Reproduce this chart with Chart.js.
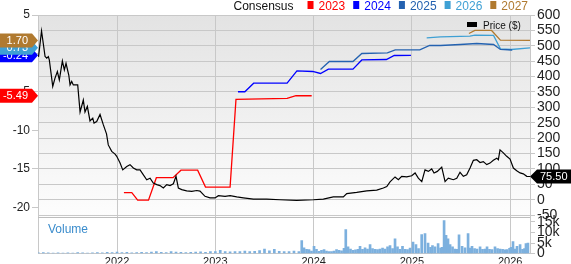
<!DOCTYPE html>
<html>
<head>
<meta charset="utf-8">
<script src="https://cdn.jsdelivr.net/npm/chart.js@4.4.1/dist/chart.umd.min.js"></script>
<style>
  html, body { margin: 0; padding: 0; background: #fff; }
  #grafico_wrap { width: 571px; height: 264px; }
</style>
</head>
<body>
<div id="grafico_wrap"><canvas id="grafico"></canvas></div>
<script>
// valores (ano decimal no eixo x)
const year_ticks = [2022, 2023, 2024, 2025, 2026];
const price_ticks = [-50, 0, 50, 100, 150, 200, 250, 300, 350, 400, 450, 500, 550, 600];
const eps_ticks = [5, 0, -5, -10, -15, -20];
const vol_ticks = [0, 5, 10, 15];

const price_dates = [2021.201, 2021.232, 2021.268, 2021.285, 2021.301, 2021.311, 2021.346, 2021.369, 2021.393, 2021.413,
    2021.444, 2021.464, 2021.481, 2021.509, 2021.522, 2021.539, 2021.555, 2021.600, 2021.624, 2021.657,
    2021.674, 2021.698, 2021.725, 2021.753, 2021.766, 2021.793, 2021.827, 2021.861, 2021.893, 2021.911,
    2021.946, 2021.980, 2021.997, 2022.031, 2022.058, 2022.099, 2022.132, 2022.166, 2022.200, 2022.234,
    2022.268, 2022.302, 2022.336, 2022.369, 2022.404, 2022.437, 2022.471, 2022.506, 2022.539, 2022.573,
    2022.600, 2022.624, 2022.658, 2022.709, 2022.760, 2022.811, 2022.844, 2022.895, 2022.946, 2022.997,
    2023.031, 2023.099, 2023.150, 2023.218, 2023.285, 2023.387, 2023.523, 2023.658, 2023.828, 2023.997,
    2024.099, 2024.200, 2024.302, 2024.337, 2024.438, 2024.540, 2024.642, 2024.709, 2024.744, 2024.777,
    2024.828, 2024.862, 2024.896, 2024.947, 2024.998, 2025.032, 2025.065, 2025.100, 2025.133, 2025.167,
    2025.201, 2025.225, 2025.258, 2025.303, 2025.337, 2025.370, 2025.421, 2025.456, 2025.489, 2025.523,
    2025.557, 2025.591, 2025.625, 2025.659, 2025.693, 2025.726, 2025.761, 2025.794, 2025.828, 2025.863,
    2025.879, 2025.896, 2025.930, 2025.964, 2025.998, 2026.032, 2026.066, 2026.100, 2026.133, 2026.168,
    2026.201];
const price_values = [464, 548, 465, 460, 465, 454, 368, 395, 416, 389,
    451, 422, 443, 405, 373, 384, 373, 373, 285, 324,
    285, 303, 256, 265, 249, 254, 277, 243, 214, 178,
    157, 148, 141, 119, 97, 108, 114, 103, 97, 97,
    81, 65, 70, 54, 49, 46, 38, 49, 46, 52,
    76, 38, 33, 29, 27, 30, 28, 11, 6, 6,
    13, 11, 13, 9, 6, 2, 2, 0, -2, 0,
    2, 9, 9, 20, 24, 29, 31, 38, 43, 58,
    74, 65, 76, 74, 78, 87, 70, 59, 97, 92,
    100, 87, 92, 106, 59, 70, 65, 70, 89, 76,
    81, 103, 128, 130, 121, 124, 114, 119, 128, 135,
    130, 162, 152, 141, 132, 103, 94, 87, 84, 76,
    75.5];

const eps_2023_dates = [2022.07, 2022.15, 2022.21, 2022.32, 2022.40, 2022.57, 2022.65, 2022.82, 2022.90, 2023.15, 2023.21, 2023.73, 2023.82, 2023.98];
const eps_2023_values = [-18.09, -18.09, -19.05, -19.05, -16.14, -16.14, -15.16, -15.16, -17.36, -17.36, -5.97, -5.84, -5.49, -5.49];

const eps_2024_dates = [2023.23, 2023.30, 2023.39, 2023.73, 2023.83, 2023.99, 2024.07, 2024.15, 2024.40, 2024.49, 2024.74, 2024.82, 2024.99];
const eps_2024_values = [-4.97, -4.97, -3.86, -3.86, -2.25, -2.34, -2.60, -2.04, -2.04, -0.84, -0.78, -0.26, -0.24];

const eps_2025_dates = [2024.07, 2024.16, 2024.40, 2024.49, 2024.75, 2024.83, 2025.08, 2025.18, 2025.29, 2025.49, 2025.66, 2025.83, 2025.90, 2026.02];
const eps_2025_values = [-2.08, -1.04, -1.04, 0.0, 0.09, 0.48, 0.48, 1.04, 1.04, 1.17, 1.30, 1.17, 0.52, 0.45];

const eps_2026_dates = [2025.15, 2025.29, 2025.59, 2025.64, 2025.83, 2025.90, 2026.01, 2026.21];
const eps_2026_values = [2.04, 2.17, 2.25, 2.38, 2.34, 0.61, 0.52, 0.73];

const eps_2027_dates = [2025.58, 2025.64, 2025.81, 2025.90, 2026.21];
const eps_2027_values = [2.60, 2.99, 2.99, 1.73, 1.70];

// volume em milhares
const vol_dates = [2021.20, 2021.25, 2021.30, 2021.35, 2021.40, 2021.45, 2021.50, 2021.55, 2021.60, 2021.65, 2021.70, 2021.75, 2021.80, 2021.85, 2021.90, 2021.95,
    2022.00, 2022.05, 2022.10, 2022.15, 2022.20, 2022.25, 2022.30, 2022.35, 2022.40, 2022.45, 2022.50, 2022.55, 2022.60, 2022.65, 2022.70, 2022.75, 2022.80, 2022.85, 2022.90, 2022.95,
    2023.00, 2023.05, 2023.10, 2023.15, 2023.20, 2023.25, 2023.30, 2023.35, 2023.40, 2023.45, 2023.50, 2023.55, 2023.60, 2023.65, 2023.70, 2023.75, 2023.80, 2023.85,
    2023.879, 2023.902, 2023.928, 2023.953, 2023.978, 2024.004, 2024.029, 2024.055, 2024.080, 2024.106,
    2024.131, 2024.157, 2024.182, 2024.207, 2024.233, 2024.258, 2024.284, 2024.309, 2024.327, 2024.350,
    2024.375, 2024.401, 2024.426, 2024.451, 2024.472, 2024.497, 2024.523, 2024.548, 2024.574, 2024.599,
    2024.625, 2024.650, 2024.675, 2024.701, 2024.726, 2024.752, 2024.777, 2024.803, 2024.828, 2024.853,
    2024.879, 2024.904, 2024.930, 2024.955, 2024.981, 2025.011, 2025.041, 2025.067, 2025.099, 2025.133,
    2025.164, 2025.189, 2025.209, 2025.235, 2025.266, 2025.291, 2025.306, 2025.327, 2025.347, 2025.367,
    2025.388, 2025.413, 2025.438, 2025.459, 2025.479, 2025.510, 2025.540, 2025.571, 2025.591, 2025.611,
    2025.637, 2025.662, 2025.693, 2025.718, 2025.744, 2025.764, 2025.789, 2025.815, 2025.845, 2025.871,
    2025.896, 2025.922, 2025.947, 2025.967, 2025.993, 2026.008, 2026.028, 2026.049, 2026.069, 2026.100,
    2026.125, 2026.145, 2026.160, 2026.180];
const vol_values = [0.4, 0.5, 0.4, 0.3, 0.4, 0.3, 0.4, 0.3, 0.5, 0.4, 0.3, 0.4, 0.5, 0.4, 0.6, 0.5,
    0.7, 0.5, 0.6, 0.4, 0.5, 0.6, 0.5, 0.7, 0.9, 0.6, 0.5, 1.0, 0.7, 0.6, 0.5, 0.6, 0.7, 0.8, 0.6, 0.9,
    1.0, 1.6, 0.9, 0.8, 1.0, 0.9, 1.2, 1.0, 1.1, 1.4, 2.2, 1.3, 2.0, 1.1, 1.0, 0.9, 1.2, 1.0,
    6.2, 2.7, 2.0, 1.9, 1.2, 3.5, 2.0, 1.1, 1.5, 1.9,
    1.2, 1.0, 1.0, 1.2, 1.9, 1.5, 1.3, 2.5, 11.4, 3.2,
    2.2, 1.6, 1.8, 2.0, 3.5, 2.0, 2.7, 2.2, 4.3, 2.4,
    2.0, 1.9, 2.2, 2.6, 2.2, 3.2, 3.8, 2.4, 7.0, 3.2,
    2.0, 3.5, 2.0, 1.9, 2.6, 5.4, 4.3, 2.4, 9.0, 9.5,
    5.0, 3.0, 3.8, 3.2, 4.8, 2.6, 3.0, 15.7, 8.6, 7.0,
    4.3, 3.2, 2.2, 2.0, 8.9, 3.5, 2.7, 9.5, 2.6, 3.5,
    2.4, 2.2, 3.2, 2.0, 2.2, 3.2, 2.0, 1.9, 3.2, 2.4,
    2.2, 2.0, 1.8, 1.9, 2.5, 3.0, 5.7, 2.2, 3.5, 4.3,
    2.0, 2.4, 4.8, 5.0];

const consensus_labels = ['2023', '2024', '2025', '2026', '2027'];
const consensus_cores = ['#ff0000', '#0000ff', '#2462b0', '#3fa0d4', '#b07a30'];

const fonte = 'Liberation Sans, Arial, sans-serif';
const cor_grade = '#c8c8c8';


function pontos(datas, valores){
    return datas.map(function(d, i){ return {x: d, y: valores[i]} })
}

function linha_eps(label, datas, valores, cor){
    return {
        type: 'line',
        label: label,
        data: pontos(datas, valores),
        yAxisID: 'y_eps',
        borderColor: cor,
        borderWidth: 1.3,
        pointRadius: 0,
        fill: false,
        tension: 0,
        order: 2
    }
}

function desenha_tag(ctx, y, texto, cor, lado){
    ctx.beginPath();
    if(lado == 'esq'){
        ctx.moveTo(0, y - 7);
        ctx.lineTo(32, y - 7);
        ctx.lineTo(38, y);
        ctx.lineTo(32, y + 7);
        ctx.lineTo(0, y + 7);
    } else {
        ctx.moveTo(530, y);
        ctx.lineTo(537, y - 7);
        ctx.lineTo(571, y - 7);
        ctx.lineTo(571, y + 7);
        ctx.lineTo(537, y + 7);
    }
    ctx.closePath();
    ctx.fillStyle = cor;
    ctx.fill();
    ctx.fillStyle = '#fff';
    ctx.font = '11px ' + fonte;
    ctx.textBaseline = 'middle';
    if(lado == 'esq'){
        ctx.textAlign = 'right';
        ctx.fillText(texto, 28, y + 0.5);
    } else {
        ctx.textAlign = 'left';
        ctx.fillText(texto, 540, y + 0.5);
    }
}

const fundo_plugin = {
    id: 'fundo',
    beforeDraw(chart){
        const ctx = chart.ctx;
        const area = chart.chartArea;
        const y_preco = chart.scales.y_preco;
        ctx.save();
        ctx.fillStyle = '#fff';
        ctx.fillRect(0, 0, chart.width, chart.height);
        const grad = ctx.createLinearGradient(0, area.top, 0, y_preco.bottom);
        grad.addColorStop(0, '#e3e3e3');
        grad.addColorStop(1, '#fdfdfd');
        ctx.fillStyle = grad;
        ctx.fillRect(area.left, area.top, area.right - area.left, y_preco.bottom - area.top);
        ctx.restore();
    },
    beforeDatasetsDraw(chart){
        const ctx = chart.ctx;
        const area = chart.chartArea;
        const yb = Math.round(chart.scales.y_preco.bottom) + 0.5;
        ctx.save();
        ctx.strokeStyle = '#bdbdbd';
        ctx.lineWidth = 1;
        ctx.beginPath();
        ctx.moveTo(area.left, yb);
        ctx.lineTo(area.right, yb);
        ctx.stroke();
        ctx.restore();
    }
};

const legenda_plugin = {
    id: 'legenda',
    afterDraw(chart){
        const ctx = chart.ctx;
        const area = chart.chartArea;
        ctx.save();

        // legenda do consenso, alinhada a direita
        ctx.font = '12px ' + fonte;
        ctx.textBaseline = 'alphabetic';
        ctx.textAlign = 'left';
        let x = area.right - 2;
        for(let i = consensus_labels.length - 1; i >= 0; i--){
            const w = ctx.measureText(consensus_labels[i]).width;
            ctx.fillStyle = consensus_cores[i];
            ctx.fillText(consensus_labels[i], x - w, 10);
            ctx.fillRect(x - w - 11, 1, 6, 8);
            x = x - w - 11 - 8;
        }
        const wc = ctx.measureText('Consensus').width;
        ctx.fillStyle = '#111';
        ctx.fillText('Consensus', x - 6 - wc, 10);

        // legenda do preco dentro do grafico
        ctx.fillStyle = '#000';
        ctx.fillRect(467, 22, 10, 5);
        ctx.font = '10px ' + fonte;
        ctx.fillStyle = '#111';
        ctx.fillText('Price ($)', 483, 29);

        // titulo do painel de volume
        ctx.font = '12px ' + fonte;
        ctx.fillStyle = '#3a8ccc';
        ctx.fillText('Volume', area.left + 10, 233);

        // etiquetas do ultimo valor
        const y_eps = chart.scales.y_eps;
        const series_tag = [
            [eps_2023_values, consensus_cores[0]],
            [eps_2024_values, consensus_cores[1]],
            [eps_2026_values, consensus_cores[3]],
            [eps_2027_values, consensus_cores[4]]
        ];
        series_tag.forEach(function(s){
            const v = s[0][s[0].length - 1];
            desenha_tag(ctx, y_eps.getPixelForValue(v), v.toFixed(2), s[1], 'esq');
        });
        const ultimo = price_values[price_values.length - 1];
        desenha_tag(ctx, chart.scales.y_preco.getPixelForValue(ultimo), ultimo.toFixed(2), '#000', 'dir');

        ctx.restore();
    }
};

function renderiza_grafico(){
    const ctx = document.getElementById('grafico').getContext('2d');
    const myChart = new Chart(ctx, {
        data: {
            datasets: [
                {
                    type: 'line',
                    label: 'Price ($)',
                    data: pontos(price_dates, price_values),
                    yAxisID: 'y_preco',
                    borderColor: '#000',
                    borderWidth: 1.2,
                    pointRadius: 0,
                    fill: false,
                    tension: 0,
                    order: 1
                },
                linha_eps('2023', eps_2023_dates, eps_2023_values, consensus_cores[0]),
                linha_eps('2024', eps_2024_dates, eps_2024_values, consensus_cores[1]),
                linha_eps('2025', eps_2025_dates, eps_2025_values, consensus_cores[2]),
                linha_eps('2026', eps_2026_dates, eps_2026_values, consensus_cores[3]),
                linha_eps('2027', eps_2027_dates, eps_2027_values, consensus_cores[4]),
                {
                    type: 'bar',
                    label: 'Volume',
                    data: pontos(vol_dates, vol_values),
                    yAxisID: 'y_vol',
                    backgroundColor: '#7cb0de',
                    barThickness: 2,
                    order: 10
                }
            ]
        },
        plugins: [fundo_plugin, legenda_plugin],
        options: {
            responsive: true,
            maintainAspectRatio: false,
            animation: false,
            events: [],
            layout: { padding: { top: 15, left: 0, right: 0, bottom: 0 } },
            plugins: {
                legend: { display: false },
                tooltip: { enabled: false }
            },
            scales: {
                x: {
                    type: 'linear',
                    offset: false,
                    min: 2021.196,
                    max: 2026.201,
                    afterBuildTicks: function(scale){
                        scale.ticks = year_ticks.map(function(v){ return {value: v} });
                    },
                    afterFit: function(scale){ scale.height = 10 },
                    ticks: {
                        callback: function(v){ return String(v) },
                        font: { family: fonte, size: 11 },
                        color: '#222',
                        padding: 2,
                        maxRotation: 0,
                        autoSkip: false
                    },
                    grid: { color: cor_grade, drawTicks: false, offset: false },
                    border: { color: cor_grade }
                },
                y_eps: {
                    type: 'linear',
                    position: 'left',
                    min: -26,
                    max: 5,
                    afterBuildTicks: function(scale){
                        scale.ticks = eps_ticks.map(function(v){ return {value: v} });
                    },
                    afterFit: function(scale){ scale.width = 38 },
                    ticks: {
                        font: { family: fonte, size: 12 },
                        color: '#222',
                        padding: 2,
                        autoSkip: false
                    },
                    grid: { drawOnChartArea: false, color: cor_grade, tickLength: 6 },
                    border: { color: cor_grade }
                },
                y_preco: {
                    type: 'linear',
                    position: 'right',
                    stack: 'direita',
                    stackWeight: 202,
                    min: -55,
                    max: 600,
                    afterBuildTicks: function(scale){
                        scale.ticks = price_ticks.map(function(v){ return {value: v} });
                    },
                    afterFit: function(scale){ scale.width = 41 },
                    ticks: {
                        font: { family: fonte, size: 14 },
                        color: '#222',
                        padding: 2,
                        autoSkip: false
                    },
                    grid: { color: cor_grade, tickLength: 5 },
                    border: { color: cor_grade }
                },
                y_vol: {
                    type: 'linear',
                    position: 'right',
                    stack: 'direita',
                    stackWeight: 37,
                    min: 0,
                    max: 17.5,
                    afterBuildTicks: function(scale){
                        scale.ticks = vol_ticks.map(function(v){ return {value: v} });
                    },
                    afterFit: function(scale){ scale.width = 41 },
                    ticks: {
                        callback: function(v){ return v == 0 ? '0' : v + 'k' },
                        font: { family: fonte, size: 14 },
                        color: '#222',
                        padding: 2,
                        autoSkip: false
                    },
                    grid: { drawOnChartArea: false, color: cor_grade, tickLength: 5 },
                    border: { color: cor_grade }
                }
            }
        }
    });
}

renderiza_grafico();
</script>
</body>
</html>
